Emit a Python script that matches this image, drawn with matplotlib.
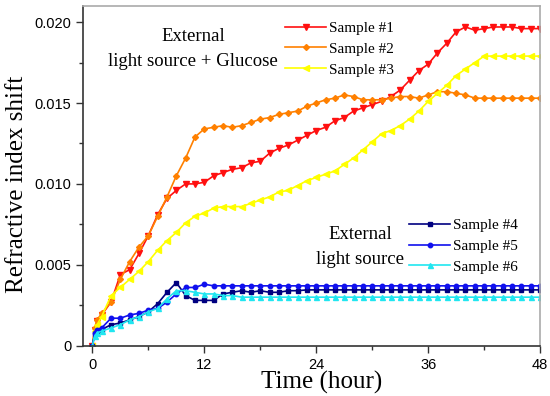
import matplotlib.pyplot as plt
from matplotlib.ticker import MultipleLocator

time_h = [0, 0.25, 0.5] + list(range(1, 49))

sample1 = [0, 0.0010, 0.0015,
           0.0019, 0.0027, 0.0044, 0.0047, 0.0057, 0.0068, 0.0081, 0.0091, 0.0096, 0.0100,
           0.0100, 0.0101, 0.0105, 0.0107, 0.0109, 0.0110, 0.0113, 0.0114, 0.0119, 0.0122,
           0.0124, 0.0127, 0.0130, 0.0133, 0.0135, 0.0139, 0.0141, 0.0145, 0.0147, 0.0149,
           0.0151, 0.0154, 0.0158, 0.0164, 0.0170, 0.0174, 0.0181, 0.0187, 0.0194, 0.0197,
           0.0195, 0.0196, 0.0197, 0.0197, 0.0197, 0.0196, 0.0196, 0.0196]
sample2 = [0, 0.0011, 0.0016,
           0.0020, 0.0027, 0.0041, 0.0052, 0.0061, 0.0068, 0.0080, 0.0092, 0.0105, 0.0116,
           0.0129, 0.0134, 0.0135, 0.0136, 0.0135, 0.0136, 0.0138, 0.0140, 0.0141, 0.0143,
           0.0144, 0.0145, 0.0148, 0.0150, 0.0152, 0.0153, 0.0155, 0.0154, 0.0152, 0.0152,
           0.0152, 0.0153, 0.0154, 0.0154, 0.0153, 0.0155, 0.0157, 0.0157, 0.0156, 0.0155,
           0.0153, 0.0153, 0.0153, 0.0153, 0.0153, 0.0153, 0.0153, 0.0153]
sample3 = [0, 0.0009, 0.0013,
           0.0018, 0.0031, 0.0036, 0.0041, 0.0046, 0.0052, 0.0059, 0.0065, 0.0070, 0.0076,
           0.0080, 0.0082, 0.0085, 0.0086, 0.0086, 0.0086, 0.0088, 0.0090, 0.0092, 0.0095,
           0.0096, 0.0099, 0.0102, 0.0104, 0.0106, 0.0108, 0.0112, 0.0116, 0.0121, 0.0126,
           0.0131, 0.0133, 0.0136, 0.0140, 0.0145, 0.0151, 0.0156, 0.0161, 0.0167, 0.0171,
           0.0175, 0.0179, 0.0179, 0.0179, 0.0179, 0.0179, 0.0179, 0.0179]
sample4 = [0, 0.0007, 0.0009,
           0.0010, 0.0013, 0.0014, 0.0016, 0.0018, 0.0021, 0.0026, 0.0033, 0.0039, 0.0031,
           0.0028, 0.0028, 0.0028, 0.0032, 0.0033, 0.0034, 0.0033, 0.0034, 0.0033, 0.0033,
           0.0034, 0.0034, 0.00345, 0.00345, 0.00345, 0.00345, 0.00345, 0.00345, 0.00345, 0.00345,
           0.00345, 0.00345, 0.00345, 0.00345, 0.00345, 0.00345, 0.00345, 0.00345, 0.00345, 0.00345,
           0.00345, 0.00345, 0.00345, 0.00345, 0.00345, 0.00345, 0.00345, 0.00345]
sample5 = [0, 0.0008, 0.0010,
           0.0011, 0.0017, 0.0017, 0.0019, 0.0020, 0.0022, 0.0023, 0.0027, 0.0032, 0.0036,
           0.0036, 0.0038, 0.0037, 0.0037, 0.0037, 0.0037, 0.0037, 0.0037, 0.0037, 0.0037,
           0.0037, 0.0037, 0.0037, 0.0037, 0.0037, 0.0037, 0.0037, 0.0037, 0.0037, 0.0037,
           0.0037, 0.0037, 0.0037, 0.0037, 0.0037, 0.0037, 0.0037, 0.0037, 0.0037, 0.0037,
           0.0037, 0.0037, 0.0037, 0.0037, 0.0037, 0.0037, 0.0037, 0.0037]
sample6 = [0, 0.0006, 0.0008,
           0.0009, 0.0011, 0.0013, 0.0016, 0.0018, 0.0021, 0.0023, 0.0029, 0.0034, 0.0034,
           0.0033, 0.0032, 0.0032, 0.0031, 0.0031, 0.0030, 0.0030, 0.0030, 0.0030, 0.0030,
           0.0030, 0.0030, 0.0030, 0.0030, 0.0030, 0.0030, 0.0030, 0.0030, 0.0030, 0.0030,
           0.0030, 0.0030, 0.0030, 0.0030, 0.0030, 0.0030, 0.0030, 0.0030, 0.0030, 0.0030,
           0.0030, 0.0030, 0.0030, 0.0030, 0.0030, 0.0030, 0.0030, 0.0030]

labels = ["Sample #1", "Sample #2", "Sample #3", "Sample #4", "Sample #5", "Sample #6"]
colors = ["#ff1010", "#ff8000", "#ffff00", "#000080", "#1010ee", "#20e6f0"]
markers = ["v", "D", "<", "s", "o", "^"]
msizes = [3.8, 3, 3.8, 3, 3.2, 3.6]
series = [sample1, sample2, sample3, sample4, sample5, sample6]

serif = "Liberation Serif"
plt.rcParams["font.family"] = "Liberation Sans"

fig = plt.figure(figsize=(5.5, 3.96), dpi=100)
ax = fig.add_axes([0.151, 0.127, 0.831, 0.858])

lines = []
for y, lab, c, m, ms in zip(series, labels, colors, markers, msizes):
    ln, = ax.plot(time_h, y, color=c, marker=m, markersize=ms, linewidth=1.2, label=lab)
    lines.append(ln)

ax.set_xlim(-1, 48)
ax.set_ylim(0, 0.021)
ax.set_xticks([0, 12, 24, 36, 48])
ax.xaxis.set_minor_locator(MultipleLocator(6))
ax.set_yticks([0, 0.005, 0.010, 0.015, 0.020])
ax.set_yticklabels(["0", "0.005", "0.010", "0.015", "0.020"])
ax.yaxis.set_minor_locator(MultipleLocator(0.0025))
ax.tick_params(which="major", direction="out", length=5, width=1, labelsize=10.5, colors="#333333")
ax.tick_params(which="minor", direction="out", length=3, width=1, colors="#333333")
ax.tick_params(labelcolor="black")
for s in ["left", "bottom"]:
    ax.spines[s].set_color("#333333")
    ax.spines[s].set_linewidth(1.2)
for s in ["top", "right"]:
    ax.spines[s].set_color("#aaaaaa")
    ax.spines[s].set_linewidth(1.2)

ax.set_xlabel("Time (hour)", family=serif, fontsize=18)
ax.set_ylabel("Refractive index shift", family=serif, fontsize=18)
ax.xaxis.set_label_coords(0.521, -0.073)
ax.yaxis.set_label_coords(-0.12, 0.476)

ax.text(10.8, 0.0191, "External", family=serif, fontsize=13.5, ha="center", va="center")
ax.text(10.8, 0.01755, "light source + Glucose", family=serif, fontsize=13.5, ha="center", va="center")
ax.text(28.7, 0.0069, "External", family=serif, fontsize=13.5, ha="center", va="center")
ax.text(28.7, 0.0053, "light source", family=serif, fontsize=13.5, ha="center", va="center")

leg1 = ax.legend(handles=lines[:3], loc="upper left", bbox_to_anchor=(0.442, 0.955),
                 frameon=False, borderpad=0, borderaxespad=0, handlelength=2.7,
                 handletextpad=0.2, labelspacing=0.47, prop={"family": serif, "size": 11})
ax.add_artist(leg1)
ax.legend(handles=lines[3:], loc="upper left", bbox_to_anchor=(0.713, 0.375),
          frameon=False, borderpad=0, borderaxespad=0, handlelength=2.7,
          handletextpad=0.2, labelspacing=0.47, prop={"family": serif, "size": 11})

fig.savefig("out.png", dpi=100)
